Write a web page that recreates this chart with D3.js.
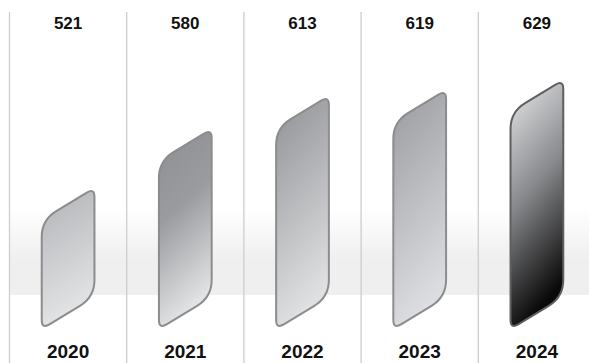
<!DOCTYPE html>
<html>
<head>
<meta charset="utf-8">
<script src="https://cdn.jsdelivr.net/npm/d3@7"></script>
<style>
  html, body { margin: 0; padding: 0; background: #fff; }
  svg { display: block; }
</style>
</head>
<body>
<div id="chart-area"></div>
<script>
const years = ["2020", "2021", "2022", "2023", "2024"];
const values = [521, 580, 613, 619, 629];

// fill stops per bar (top -> bottom)
const barFills = [
    [["0%", "#b2b3b6"], ["100%", "#e3e4e6"]],
    [["0%", "#8e8f92"], ["45%", "#9a9b9e"], ["100%", "#e2e3e5"]],
    [["0%", "#909194"], ["100%", "#dfe0e2"]],
    [["0%", "#9a9b9e"], ["100%", "#dcdde0"]],
    [["0%", "#e6e7e9"], ["50%", "#88898c"], ["100%", "#0a0a0a"]]
];
const barStrokes = ["#8c8c8c", "#8c8c8c", "#8c8c8c", "#8c8c8c", "#5f5f5f"];

function renderChart() {
    const svgWidth = 589;
    const svgHeight = 363;
    const baseY = 329;
    const slant = 32;

    const svg = d3.select("#chart-area")
        .append("svg")
        .attr("width", svgWidth)
        .attr("height", svgHeight);

    const defs = svg.append("defs");

    const xScale = d3.scaleBand()
        .domain(years)
        .range([9.5, 595.5])
        .padding(0);

    const yScale = d3.scaleLinear()
        .domain([380, 640])
        .range([baseY, 69]);

    // soft grey band behind the bars
    const bandGrad = defs.append("linearGradient")
        .attr("id", "band-gradient")
        .attr("x1", "0%").attr("y1", "0%")
        .attr("x2", "0%").attr("y2", "100%");
    bandGrad.append("stop").attr("offset", "0%").attr("stop-color", "#ffffff");
    bandGrad.append("stop").attr("offset", "60%").attr("stop-color", "#efefef");
    bandGrad.append("stop").attr("offset", "100%").attr("stop-color", "#efefef");

    svg.append("rect")
        .attr("x", 10)
        .attr("y", 208)
        .attr("width", svgWidth - 10)
        .attr("height", 87)
        .attr("fill", "url(#band-gradient)");

    svg.selectAll(".sep")
        .data(years)
        .join("line")
        .attr("class", "sep")
        .attr("x1", d => xScale(d))
        .attr("x2", d => xScale(d))
        .attr("y1", 12)
        .attr("y2", svgHeight)
        .attr("stroke", "#cdcdcd")
        .attr("stroke-width", 1.3);

    barFills.forEach((stops, i) => {
        const g = defs.append("linearGradient")
            .attr("id", `bar-grad-${i}`)
            .attr("x1", "0%").attr("y1", "0%")
            .attr("x2", "25%").attr("y2", "100%");
        g.selectAll("stop")
            .data(stops)
            .join("stop")
            .attr("offset", d => d[0])
            .attr("stop-color", d => d[1]);
    });

    // slanted bar with rounded corners
    function barPath(x0, x1, yTop, yBot) {
        const pts = [
            { x: x0, y: yTop + slant, r: 17 },
            { x: x1, y: yTop, r: 9 },
            { x: x1, y: yBot - slant, r: 17 },
            { x: x0, y: yBot, r: 9 }
        ];
        const p = d3.path();
        const n = pts.length;
        const start = { x: x0, y: (yTop + slant + yBot) / 2 };
        p.moveTo(start.x, start.y);
        for (let k = 0; k < n; k++) {
            const cur = pts[k];
            const prev = k === 0 ? start : pts[k - 1];
            const next = pts[(k + 1) % n];
            const d1 = Math.hypot(prev.x - cur.x, prev.y - cur.y);
            const d2 = Math.hypot(next.x - cur.x, next.y - cur.y);
            const a = { x: cur.x + (prev.x - cur.x) / d1 * cur.r, y: cur.y + (prev.y - cur.y) / d1 * cur.r };
            const b = { x: cur.x + (next.x - cur.x) / d2 * cur.r, y: cur.y + (next.y - cur.y) / d2 * cur.r };
            p.lineTo(a.x, a.y);
            p.quadraticCurveTo(cur.x, cur.y, b.x, b.y);
        }
        p.closePath();
        return p.toString();
    }

    const barW = xScale.bandwidth() * 0.45;

    svg.selectAll(".bar")
        .data(values)
        .join("path")
        .attr("class", "bar")
        .attr("d", (d, i) => {
            const cx = xScale(years[i]) + xScale.bandwidth() / 2;
            return barPath(cx - barW / 2, cx + barW / 2, yScale(d), baseY);
        })
        .attr("fill", (d, i) => `url(#bar-grad-${i})`)
        .attr("stroke", (d, i) => barStrokes[i])
        .attr("stroke-width", 2);

    svg.selectAll(".value-label")
        .data(values)
        .join("text")
        .attr("class", "value-label")
        .attr("x", (d, i) => xScale(years[i]) + xScale.bandwidth() / 2)
        .attr("y", 29)
        .attr("text-anchor", "middle")
        .style("font-family", "'Liberation Sans', Arial, sans-serif")
        .style("font-size", "17px")
        .style("font-weight", "bold")
        .attr("fill", "#111")
        .text(d => d);

    svg.selectAll(".year-label")
        .data(years)
        .join("text")
        .attr("class", "year-label")
        .attr("x", d => xScale(d) + xScale.bandwidth() / 2)
        .attr("y", 358)
        .attr("text-anchor", "middle")
        .style("font-family", "'Liberation Sans', Arial, sans-serif")
        .style("font-size", "19px")
        .style("font-weight", "bold")
        .attr("fill", "#111")
        .text(d => d);
}

renderChart();
</script>
</body>
</html>
